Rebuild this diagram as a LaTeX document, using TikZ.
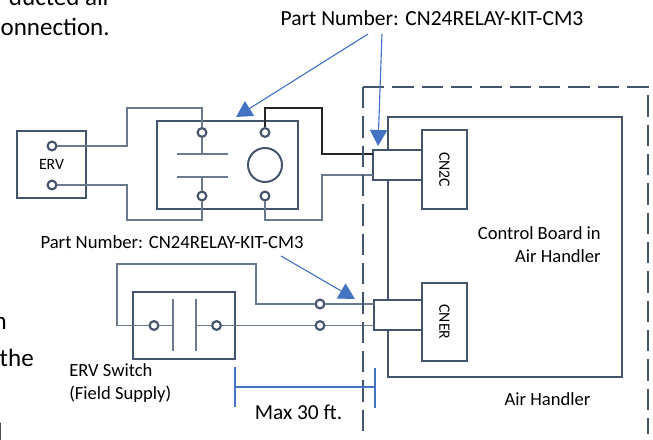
\documentclass[tikz,border=0pt]{standalone}
\usepackage{fontspec}
\setmainfont{Carlito}
\usetikzlibrary{arrows.meta}
\definecolor{boxcol}{HTML}{44546A}
\definecolor{wirecol}{HTML}{6B7A8E}
\definecolor{bluecol}{HTML}{4472C4}
\tikzset{
	box/.style={draw=boxcol, line width=1.9pt, inner sep=0pt},
	conn/.style={box, fill=white},
	term/.style={circle, draw=boxcol, fill=white, line width=1.5pt, inner sep=0pt, minimum size=0.22cm},
	wire/.style={draw=wirecol, line width=0.9pt},
	hot/.style={draw=black!85, line width=0.8pt},
	callout/.style={draw=bluecol, line width=0.8pt, -{Triangle[length=0.4cm,width=0.43cm]}},
	dimline/.style={draw=bluecol, line width=0.9pt},
	outline/.style={draw=boxcol, line width=1.7pt, dash pattern=on 0.53cm off 0.2033cm},
	partlabel/.style={font=\fontsize{13.3}{16}\selectfont, inner sep=0pt},
	small/.style={font=\fontsize{13.2}{16.4}\selectfont, inner sep=0pt},
	tiny/.style={font=\fontsize{11.2}{13}\selectfont},
	body/.style={font=\fontsize{17.8}{26}\selectfont, inner sep=0pt, anchor=base east}
}
\begin{document}
\begin{tikzpicture}[x=0.025cm, y=-0.025cm]
	\useasboundingbox (0,0) rectangle (653,440);
	\clip (0,0) rectangle (653,440);
	%text cut off by the crop
	\node [body] (txtducted) at (112,6) {ducted air};
	\node [body] (txtconn) at (110,36) {connection.};
	\node [body] (txtn) at (7,329) {n};
	\node [body] (txtthe) at (34,366) {the};
	\node [body] (txtl) at (3,440) {l};
	%ERV
	\node [box, tiny, minimum width=1.725cm, minimum height=1.675cm] (erv) at (51.5,164.5) {ERV};
	\node [term] (ervtop) at (52,146) {};
	\node [term] (ervbot) at (52,185) {};
	%Relay
	\node [box, minimum width=3.525cm, minimum height=2.2cm] (relay) at (227.5,165) {};
	\node [term] (relaya) at (202,132.5) {};
	\node [term] (relayb) at (265,132.5) {};
	\node [term] (relayc) at (202,196) {};
	\node [term] (relayd) at (265,196) {};
	\node [circle, draw=boxcol, line width=1.4pt, inner sep=0pt, minimum size=0.85cm] (coil) at (265,165) {};
	\coordinate (contacta) at (202,154);
	\coordinate (contactb) at (202,177);
	\draw [wire] (177,154) -- (228,154);
	\draw [wire] (177,177) -- (228,177);
	\draw [wire] (relaya) -- (contacta);
	\draw [wire] (relayc) -- (contactb);
	%Control board
	\node [box, minimum width=5.85cm, minimum height=6.5cm] (board) at (505,247) {};
	\node [conn, minimum width=1.225cm, minimum height=0.75cm] (plugtop) at (397.5,165) {};
	\node [conn, tiny, rotate=-90, minimum width=1.975cm, minimum height=1.125cm] (cntwoc) at (444.5,169.5) {CN2C};
	\node [conn, minimum width=1.2cm, minimum height=0.75cm] (plugbot) at (398,315) {};
	\node [conn, tiny, rotate=-90, minimum width=1.95cm, minimum height=1.125cm] (cner) at (444.5,322) {CNER};
	%Wires from ERV to relay
	\coordinate (benda) at (127,108);
	\coordinate (bendb) at (127,220);
	\draw [wire] (ervtop) -| (benda) -| (relaya);
	\draw [wire] (ervbot) -| (bendb) -| (relayc);
	%Wires from relay to CN2C
	\coordinate (bendc) at (322,108);
	\coordinate (bendd) at (322,220);
	\coordinate (plugin) at (373,154);
	\coordinate (plugout) at (373,175);
	\draw [hot] (relayb) |- (bendc) |- (plugin);
	\draw [wire] (relayd) |- (bendd) |- (plugout);
	%ERV switch
	\node [box, minimum width=2.55cm, minimum height=1.675cm] (switch) at (184,325.5) {};
	\node [term] (switcha) at (154,325.5) {};
	\node [term] (switchb) at (216.5,325.5) {};
	\coordinate (platea) at (173,325.5);
	\coordinate (plateb) at (196,325.5);
	\draw [wire] (173,299) -- (173,351);
	\draw [wire] (196,299) -- (196,351);
	\draw [wire] (switcha) -- (platea);
	\draw [wire] (switchb) -- (plateb);
	\node [term] (fielda) at (320,304) {};
	\node [term] (fieldb) at (320,325.5) {};
	\coordinate (loopa) at (117,264);
	\coordinate (loopb) at (256,264);
	\coordinate (plugina) at (374,304);
	\coordinate (pluginb) at (374,325.5);
	\draw [wire] (switcha) -| (loopa) -| (loopb) |- (fielda);
	\draw [wire] (fielda) -- (plugina);
	\draw [wire] (switchb) -- (fieldb);
	\draw [wire] (fieldb) -- (pluginb);
	%Air handler outline
	\draw [outline] (363,87) -- (363,434);
	\draw [outline] (363,87) -- (648,87) -- (648,434);
	%Part number callouts
	\node [partlabel, font=\fontsize{15.3}{18}\selectfont] (parttop) at (432,18) {Part Number: CN24RELAY-KIT-CM3};
	\node [partlabel] (partbot) at (172,242) {Part Number: CN24RELAY-KIT-CM3};
	\coordinate (calla) at (368,34);
	\coordinate (callb) at (382,34);
	\coordinate (callc) at (281,256);
	\coordinate (tipa) at (236,117);
	\coordinate (tipb) at (378,146);
	\coordinate (tipc) at (355,299);
	\draw [callout] (calla) -- (tipa);
	\draw [callout] (callb) -- (tipb);
	\draw [callout] (callc) -- (tipc);
	%Max length
	\coordinate (dimleft) at (235,387);
	\coordinate (dimright) at (375,387);
	\draw [dimline] (235,367) -- (235,407);
	\draw [dimline] (375,368) -- (375,408);
	\draw [dimline] (dimleft) -- (dimright);
	\node [small, font=\fontsize{15.2}{18}\selectfont] (maxlen) at (298.5,412) {Max 30 ft.};
	%Labels
	\node [small, align=right, anchor=north east] (boardlabel) at (601,226) {Control Board in\\Air Handler};
	\node [small, align=left, anchor=north west] (switchlabel) at (69,363) {ERV Switch\\(Field Supply)};
	\node [small] (ahlabel) at (547.5,399) {Air Handler};
\end{tikzpicture}
\end{document}
